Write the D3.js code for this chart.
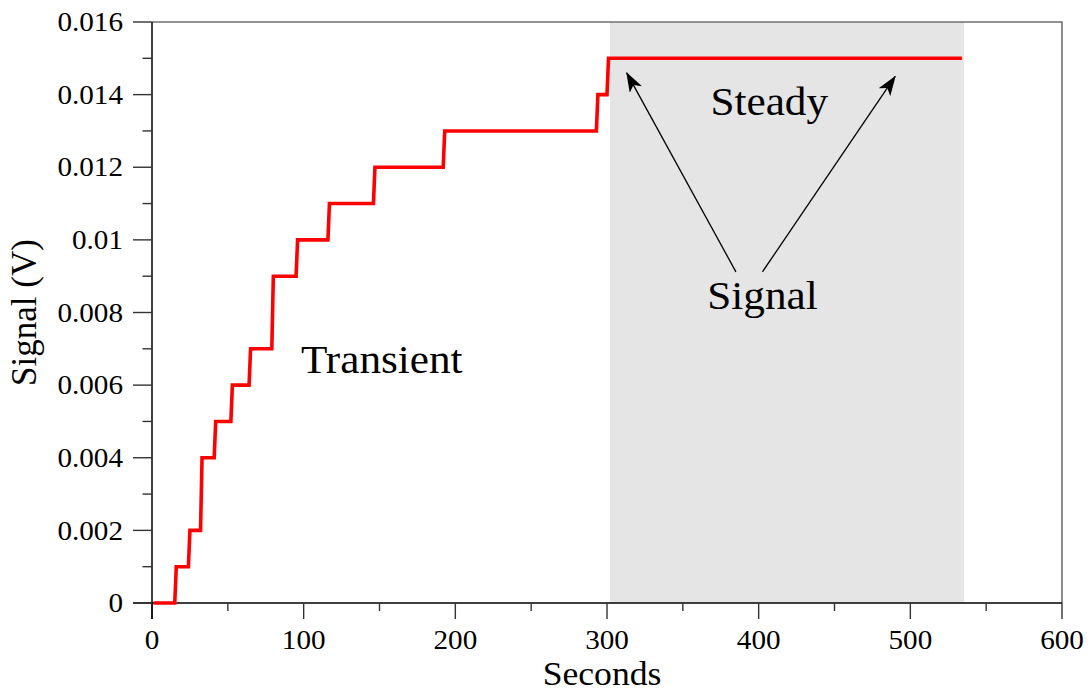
<!DOCTYPE html>
<html>
<head>
<meta charset="utf-8">
<script src="https://cdn.jsdelivr.net/npm/d3@7"></script>
<style>
  html, body { margin: 0; padding: 0; background: #fff; }
  svg { display: block; }
  text { font-family: "Liberation Serif", "Times New Roman", serif; fill: #000; }
</style>
</head>
<body>
<svg id="chart" width="1092" height="692"></svg>
<script>
// Step-change times (s) and the signal level held from each change to the next
const changeTimes = [1, 15, 24, 32, 41, 52, 64, 79, 95, 116, 146, 192, 293, 300, 534];
const levels      = [0, 0.001, 0.002, 0.004, 0.005, 0.006, 0.007, 0.009, 0.010, 0.011, 0.012, 0.013, 0.014, 0.015];

const xTicks = [0, 100, 200, 300, 400, 500, 600];
const xMinorTicks = [50, 150, 250, 350, 450, 550];
const yTicks = [0, 0.002, 0.004, 0.006, 0.008, 0.01, 0.012, 0.014, 0.016];
const yTickLabels = ["0", "0.002", "0.004", "0.006", "0.008", "0.01", "0.012", "0.014", "0.016"];
const yMinorTicks = [0.001, 0.003, 0.005, 0.007, 0.009, 0.011, 0.013, 0.015];

// Steady-state window and annotation anchors, in data units
const steadyWindow = [302, 535.5];
const arrows = [
  { from: [385, 0.00912], to: [313, 0.0146] },
  { from: [402.5, 0.00912], to: [490, 0.0145] }
];

const svg = d3.select("#chart");
const margin = { left: 152, right: 30, top: 22, bottom: 89 };
const W = 1092, H = 692;
const widen = 1.08; // slightly wide lettering

const x = d3.scaleLinear().domain([0, 600]).range([margin.left, W - margin.right]);
const y = d3.scaleLinear().domain([0, 0.016]).range([H - margin.bottom, margin.top]);

// Shaded steady-state region
svg.append("rect")
  .attr("x", x(steadyWindow[0]))
  .attr("y", y(0.016))
  .attr("width", x(steadyWindow[1]) - x(steadyWindow[0]))
  .attr("height", y(0) - y(0.016))
  .attr("fill", "#e5e5e5");

// Frame top and right edges
svg.append("path")
  .attr("d", `M${x(0)},${y(0.016)}H${x(600)}V${y(0)}`)
  .attr("fill", "none")
  .attr("stroke", "#707070")
  .attr("stroke-width", 1.6);

// Build the staircase: each level starts ~1 s after its change time
const pts = [];
levels.forEach((v, i) => {
  const t0 = i === 0 ? changeTimes[0] : changeTimes[i] + 1;
  pts.push([t0, v]);
  pts.push([changeTimes[i + 1], v]);
});

// X axis
const xAxis = svg.append("g").attr("transform", `translate(0,${y(0)})`);
xAxis.append("line").attr("x1", x(0) - 19).attr("x2", x(600))
  .attr("stroke", "#000").attr("stroke-width", 1.5);
xAxis.selectAll(".maj").data(xTicks).join("line")
  .attr("x1", d => x(d)).attr("x2", d => x(d)).attr("y1", 0).attr("y2", 16)
  .attr("stroke", "#333").attr("stroke-width", 1.4);
xAxis.selectAll(".min").data(xMinorTicks).join("line")
  .attr("x1", d => x(d)).attr("x2", d => x(d)).attr("y1", 0).attr("y2", 8)
  .attr("stroke", "#333").attr("stroke-width", 1.4);
xAxis.selectAll("text").data(xTicks).join("text")
  .attr("transform", d => `translate(${x(d)},46) scale(${widen},1)`)
  .attr("text-anchor", "middle")
  .attr("font-size", 27)
  .text(d => d);

// Y axis
const yAxis = svg.append("g").attr("transform", `translate(${x(0)},0)`);
yAxis.append("line").attr("y1", y(0.016)).attr("y2", y(0) + 16)
  .attr("stroke", "#000").attr("stroke-width", 1.5);
yAxis.selectAll(".maj").data(yTicks).join("line")
  .attr("x1", -19).attr("x2", 0).attr("y1", d => y(d)).attr("y2", d => y(d))
  .attr("stroke", "#333").attr("stroke-width", 1.4);
yAxis.selectAll(".min").data(yMinorTicks).join("line")
  .attr("x1", -9.5).attr("x2", 0).attr("y1", d => y(d)).attr("y2", d => y(d))
  .attr("stroke", "#333").attr("stroke-width", 1.4);
yAxis.selectAll("text").data(yTicks).join("text")
  .attr("transform", d => `translate(-29,${y(d)}) scale(${widen},1)`)
  .attr("dy", "0.34em")
  .attr("text-anchor", "end")
  .attr("font-size", 27)
  .text((d, i) => yTickLabels[i]);

// Signal trace
svg.append("path")
  .datum(pts)
  .attr("d", d3.line().x(d => x(d[0])).y(d => y(d[1])))
  .attr("fill", "none")
  .attr("stroke", "#ff0000")
  .attr("stroke-width", 3.6)
  .attr("stroke-linejoin", "miter");

// Arrows
const defs = svg.append("defs");
defs.append("marker")
  .attr("id", "head")
  .attr("viewBox", "0 0 20 14")
  .attr("refX", 19).attr("refY", 7)
  .attr("markerWidth", 20).attr("markerHeight", 14)
  .attr("markerUnits", "userSpaceOnUse")
  .attr("orient", "auto")
  .append("path")
  .attr("d", "M0,0L20,7L0,14L5,7Z")
  .attr("fill", "#000");

svg.selectAll(".arrow").data(arrows).join("line")
  .attr("x1", d => x(d.from[0])).attr("y1", d => y(d.from[1]))
  .attr("x2", d => x(d.to[0])).attr("y2", d => y(d.to[1]))
  .attr("stroke", "#000").attr("stroke-width", 1.3)
  .attr("marker-end", "url(#head)");

// Annotations
function label(tx, ty, size, anchor, str) {
  svg.append("text")
    .attr("transform", `translate(${tx},${ty}) scale(${widen},1)`)
    .attr("text-anchor", anchor)
    .attr("font-size", size)
    .text(str);
}
label(x(407), 115, 40, "middle", "Steady");
label(x(402.5), 309, 40, "middle", "Signal");
label(301, 373, 40, "start", "Transient");

// Axis titles
label(602, 684.5, 33, "middle", "Seconds");
svg.append("text")
  .attr("transform", `translate(36,${(y(0) + y(0.016)) / 2}) rotate(-90)`)
  .attr("text-anchor", "middle").attr("font-size", 35).text("Signal (V)");
</script>
</body>
</html>
